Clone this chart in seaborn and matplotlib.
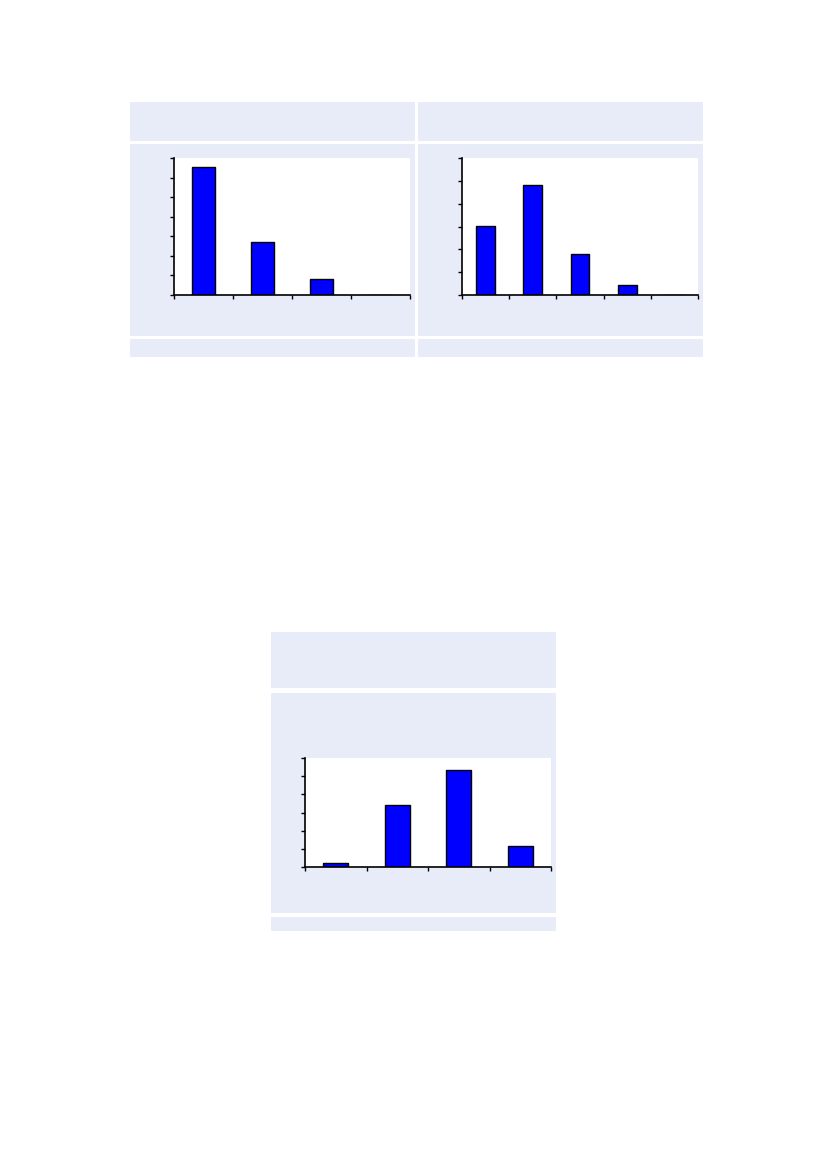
import numpy as np
import matplotlib
matplotlib.use("Agg")
import matplotlib.pyplot as plt
import seaborn as sns
from matplotlib.patches import Rectangle

sns.set_style("ticks")
plt.rcParams['font.family'] = ['DejaVu Sans']

# values (no labels are printed on the page)
cats1 = ["c1", "c2", "c3", "c4"]
vals1 = [6.52, 2.73, 0.82, 0.0]
cats2 = ["c1", "c2", "c3", "c4", "c5"]
vals2 = [3.02, 4.82, 1.81, 0.44, 0.0]
cats3 = ["c1", "c2", "c3", "c4"]
vals3 = [0.22, 3.44, 5.35, 1.13]

ymax1, ymax2, ymax3 = 7, 6, 6

W, H = 827, 1169
panel_col = "#E8EBF8"

fig = plt.figure(figsize=(W / 100, H / 100), dpi=100)


def fbox(x0, y0, x1, y1):
    # pixel box (top-left origin) -> figure fraction rect
    return [x0 / W, 1 - y1 / H, (x1 - x0) / W, (y1 - y0) / H]


def panel(x0, y0, x1, y1):
    l, b, w, h = fbox(x0, y0, x1, y1)
    fig.patches.append(Rectangle((l, b), w, h, transform=fig.transFigure,
                                 facecolor=panel_col, edgecolor="none", zorder=-10))


def bar_chart(box, cats, vals, ymax):
    ax = fig.add_axes(fbox(*box))
    ax.set_zorder(5)
    sns.barplot(x=cats, y=vals, ax=ax, color="#0000FF", saturation=1,
                width=0.4, edgecolor="black", linewidth=1.0)
    n = len(cats)
    ax.set_xlim(-0.5, n - 0.5)
    ax.set_ylim(0, ymax)
    ax.set_xticks(np.arange(n + 1) - 0.5)
    ax.set_yticks(np.arange(ymax + 1))
    ax.set_xticklabels([])
    ax.set_yticklabels([])
    ax.set_facecolor("white")
    for s in ["top", "right"]:
        ax.spines[s].set_visible(False)
    for s in ["left", "bottom"]:
        ax.spines[s].set_color("black")
        ax.spines[s].set_linewidth(1.2)
    ax.tick_params(direction="out", length=3, width=1.0, color="black")
    ax.set_xlabel("")
    ax.set_ylabel("")
    return ax


# chart 1
panel(130, 102, 415, 141)
panel(130, 144, 415, 336)
panel(130, 339, 415, 357)
bar_chart((174, 158, 410, 295), cats1, vals1, ymax1)

# chart 2
panel(418, 102, 703, 141)
panel(418, 144, 703, 336)
panel(418, 339, 703, 357)
bar_chart((462, 158, 698, 295), cats2, vals2, ymax2)

# chart 3
panel(271, 632, 556, 688)
panel(271, 693, 556, 913)
panel(271, 917, 556, 931)
bar_chart((305, 758, 551, 867), cats3, vals3, ymax3)

fig.savefig("out.png", dpi=100, facecolor="white")
